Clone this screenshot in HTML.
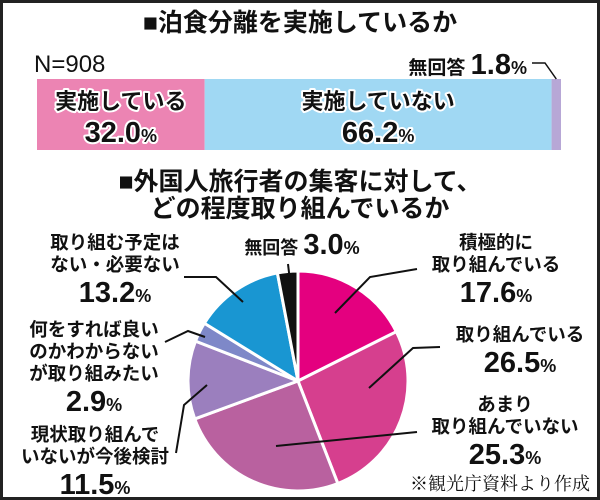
<!DOCTYPE html>
<html><head><meta charset="utf-8"><style>
body{margin:0;background:#fff}
svg{display:block;font-family:"Liberation Sans","Noto Sans CJK JP",sans-serif}
.t{font-weight:bold;font-size:25px;fill:#111}
.l{font-size:18.5px;fill:#111;font-weight:bold}
.p{font-size:29px;font-weight:bold;fill:#111}
.ps{font-size:18px;font-weight:bold}
.o{stroke:#fff;stroke-width:4px;paint-order:stroke;stroke-linejoin:round}
</style></head><body>
<svg id="c" width="600" height="500" viewBox="0 0 600 500">
<rect x="1.5" y="1.5" width="597" height="497" fill="#fff" stroke="#222" stroke-width="3"/>
<text class="t" x="300" y="31" text-anchor="middle">■泊食分離を実施しているか</text>
<text x="34" y="72" font-size="24" fill="#111">N=908</text>
<g id="bar"></g>
<text class="t" x="300" y="190" text-anchor="middle">■外国人旅行者の集客に対して、</text>
<text class="t" x="300" y="217" text-anchor="middle">どの程度取り組んでいるか</text>
<g id="pie"></g>
<g id="labels"></g>
<text x="590" y="490" text-anchor="end" font-size="18" fill="#111" font-family="Liberation Serif, Noto Serif CJK SC, serif">※観光庁資料より作成</text>
</svg>
<script>
const barCats=["実施している","実施していない","無回答"];
const barVals=[32.0,66.2,1.8];
const pieCats=["積極的に取り組んでいる","取り組んでいる","あまり取り組んでいない","現状取り組んでいないが今後検討","何をすれば良いのかわからないが取り組みたい","取り組む予定はない・必要ない","無回答"];
const pieVals=[17.6,26.5,25.3,11.5,2.9,13.2,3.0];
const NS="http://www.w3.org/2000/svg";
function mk(t,a,p){const e=document.createElementNS(NS,t);for(const k in a)e.setAttribute(k,a[k]);p.appendChild(e);return e;}
// bar
const bar=document.getElementById('bar');
const bx0=37,bx1=561,by=79,bh=71;
const bcol=["#ec84b3","#a0d8f3","#b7a7d6"];
const tot=barVals.reduce((a,b)=>a+b,0);
let cx=bx0;
barVals.forEach((v,i)=>{const w=v/tot*(bx1-bx0);
 const r=mk('rect',{x:cx,y:by,width:w,height:bh,fill:bcol[i]},bar);
 
 
 if(i<2){const mx=cx+w/2;
  const t1=mk('text',{x:mx,y:by+30,'text-anchor':'middle','font-size':'22','font-weight':'bold',fill:'#111',class:'o'},bar);t1.textContent=barCats[i];
  
  
  const t2=mk('text',{x:mx,y:by+63,'text-anchor':'middle',class:'p o','font-size':'31'},bar);
  t2.innerHTML=v.toFixed(1)+'<tspan class="ps">%</tspan>';
  
  
 } else {
  const t=mk('text',{x:527,y:74,'text-anchor':'end','font-size':'19','font-weight':'bold',fill:'#111'},bar);
  t.innerHTML=barCats[i]+' <tspan font-size="29" font-weight="bold">'+v.toFixed(1)+'</tspan><tspan class="ps">%</tspan>';
  
  
  const l=mk('polyline',{points:`532,63 545,63 ${cx+w/2},${by}`,fill:'none',stroke:'#111','stroke-width':1.5},bar);
  
  
 }
 cx+=w;});
// pie
const pie=document.getElementById('pie');
const PX=298,PY=381,R=110;
const pcol=["#e4007f","#d63f8e","#b9619f","#9b7fbe","#7e88c8","#1996d2","#111111"];
const ptot=pieVals.reduce((a,b)=>a+b,0);
let a0=0;
pieVals.forEach((v,i)=>{const a1=a0+v/ptot*2*Math.PI;
 const x0=PX+R*Math.sin(a0),y0=PY-R*Math.cos(a0),x1=PX+R*Math.sin(a1),y1=PY-R*Math.cos(a1);
 const p=mk('path',{d:`M${PX},${PY}L${x0},${y0}A${R},${R} 0 ${a1-a0>Math.PI?1:0} 1 ${x1},${y1}Z`,fill:pcol[i],stroke:'#fff','stroke-width':3,'stroke-linejoin':'round'},pie);
 
 
 a0=a1;});
// labels
const lab=document.getElementById('labels');
const L=[
 {lines:["積極的に","取り組んでいる"],x:496,y:249,lead:"335,313 370,277 417,269"},
 {lines:["取り組んでいる"],x:520,y:341,lead:"369,388 413,348 440,347"},
 {lines:["あまり","取り組んでいない"],x:505,y:411,lead:"276,446 417,432"},
 {lines:["現状取り組んで","いないが今後検討"],x:95,y:441,lead:"207,385 184,405 176,453"},
 {lines:["何をすれば良い","のかわからない","が取り組みたい"],x:94,y:336,lead:"205,337 188,331 165,342"},
 {lines:["取り組む予定は","ない・必要ない"],x:115,y:249,lead:"243,302 216,277 184,277"},
];
L.forEach((o,i)=>{
 o.lines.forEach((s,j)=>{const t=mk('text',{x:o.x,y:o.y+j*22,'text-anchor':'middle',class:'l'},lab);t.textContent=s;
  
  });
 const t=mk('text',{x:o.x,y:o.y+o.lines.length*22+9,'text-anchor':'middle',class:'p'},lab);
 t.innerHTML=pieVals[i].toFixed(1)+'<tspan class="ps">%</tspan>';
 
 
 const l=mk('polyline',{points:o.lead,fill:'none',stroke:'#111','stroke-width':2},lab);
 
 
});
const na=mk('text',{x:302,y:254,'text-anchor':'middle','font-size':'18','font-weight':'bold',fill:'#111'},lab);
na.innerHTML='無回答 <tspan font-size="29" font-weight="bold">'+pieVals[6].toFixed(1)+'</tspan><tspan class="ps">%</tspan>';


const nl=mk('line',{x1:288,y1:264,x2:290,y2:281,stroke:'#111','stroke-width':2},lab);


</script>
</body></html>
